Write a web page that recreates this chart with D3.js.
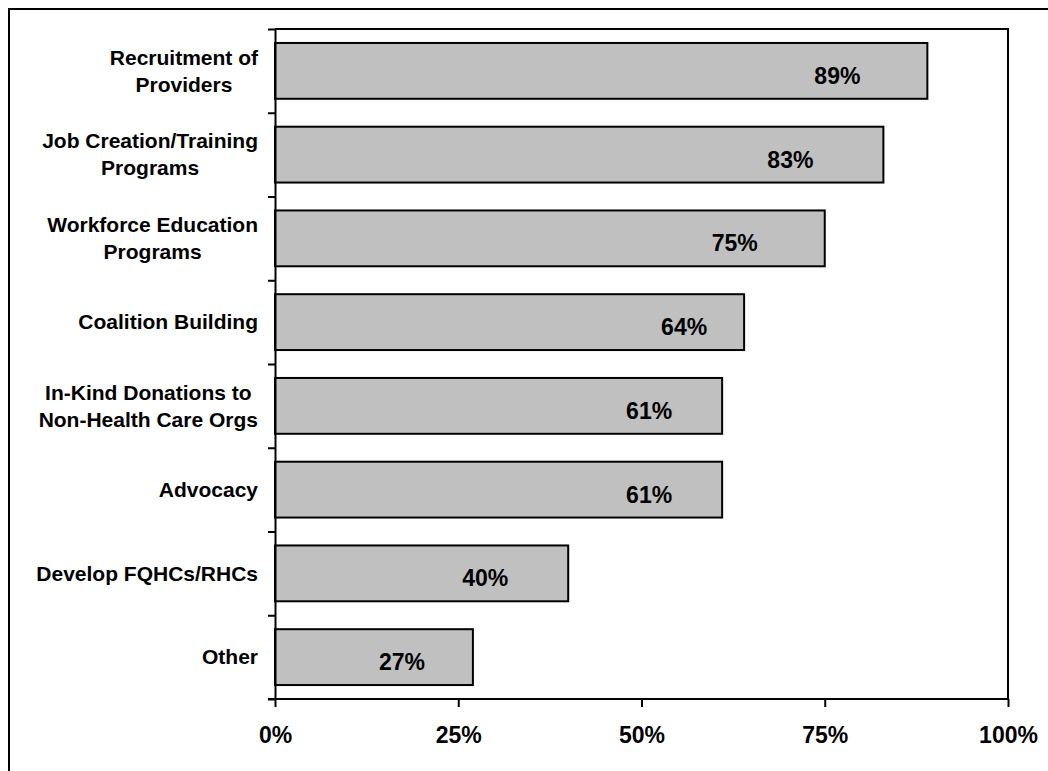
<!DOCTYPE html>
<html>
<head>
<meta charset="utf-8">
<script src="https://cdn.jsdelivr.net/npm/d3@7"></script>
<style>
  html, body { margin: 0; padding: 0; background: #fff; }
  svg { display: block; }
  text { font-family: "Liberation Sans", Arial, sans-serif; font-weight: bold; fill: #000; }
</style>
</head>
<body>
<svg id="chart" width="1048" height="771"></svg>
<script>
// Activities reported, share of respondents
const categories = [
  "Recruitment of\nProviders",
  "Job Creation/Training\nPrograms",
  "Workforce Education\nPrograms",
  "Coalition Building",
  "In-Kind Donations to\nNon-Health Care Orgs",
  "Advocacy",
  "Develop FQHCs/RHCs",
  "Other"
];
const values = [0.89, 0.83, 0.75, 0.64, 0.61, 0.61, 0.40, 0.27];
const xTickValues = [0, 0.25, 0.5, 0.75, 1];
const xTickLabels = ["0%", "25%", "50%", "75%", "100%"];

const svg = d3.select("#chart");
const W = 1048, H = 771;
const plot = { left: 275, right: 1008, top: 29, bottom: 699 };

// outer frame (right and bottom edges fall outside the canvas)
svg.append("rect")
  .attr("x", 9).attr("y", 9)
  .attr("width", W + 20).attr("height", H + 20)
  .attr("fill", "none").attr("stroke", "#000").attr("stroke-width", 2);

const x = d3.scaleLinear().domain([0, 1]).range([plot.left, plot.right]);
const y = d3.scaleBand().domain(d3.range(categories.length))
  .range([plot.top, plot.bottom]).paddingInner(1 / 3).paddingOuter(1 / 6);
const yEdges = d3.scaleLinear().domain([0, categories.length]).range([plot.top, plot.bottom]);

// plot frame: top and right edges
svg.append("path")
  .attr("d", `M${plot.left},${plot.top}H${plot.right}V${plot.bottom}`)
  .attr("fill", "none").attr("stroke", "#000").attr("stroke-width", 2);

// bars
svg.append("g").selectAll("rect").data(values).join("rect")
  .attr("x", x(0))
  .attr("y", (d, i) => y(i))
  .attr("width", d => x(d) - x(0))
  .attr("height", y.bandwidth())
  .attr("fill", "#C0C0C0")
  .attr("stroke", "#000")
  .attr("stroke-width", 2);

// value labels, set in from each bar's end
const labelInset = [90, 93, 90, 60, 73, 73, 83, 71];
svg.append("g").selectAll("text").data(values).join("text")
  .attr("x", (d, i) => x(d) - labelInset[i])
  .attr("y", (d, i) => y(i) + y.bandwidth() / 2 + 5)
  .attr("text-anchor", "middle")
  .attr("dominant-baseline", "central")
  .style("font-size", "23px")
  .text(d => d3.format(".0%")(d));

// y axis: ticks on category boundaries
const yAxis = d3.axisLeft(yEdges).tickValues(d3.range(categories.length + 1))
  .tickSize(7).tickSizeOuter(0).tickFormat("");
const gy = svg.append("g").attr("transform", `translate(${plot.left},0)`).call(yAxis);
gy.select(".domain").attr("stroke", "#000").attr("stroke-width", 2);
gy.selectAll(".tick line").attr("stroke", "#000").attr("stroke-width", 2);

// x axis
const xAxis = d3.axisBottom(x).tickValues(xTickValues)
  .tickSize(8).tickSizeOuter(0)
  .tickFormat((d, i) => xTickLabels[i]);
const gx = svg.append("g").attr("transform", `translate(0,${plot.bottom})`).call(xAxis);
gx.select(".domain").attr("d", `M${plot.left - 7},0H${plot.right}`)
  .attr("stroke", "#000").attr("stroke-width", 2);
gx.selectAll(".tick line").attr("stroke", "#000").attr("stroke-width", 2);
gx.selectAll(".tick text")
  .attr("y", 36).attr("dy", "0.35em")
  .style("font-size", "23px")
  .style("font-family", "'Liberation Sans', Arial, sans-serif")
  .style("font-weight", "bold")
  .attr("fill", "#000");

// category labels: block right-aligned, lines centred within block
const labelRight = 258;
const lineH = 27;
const gc = svg.append("g");
categories.forEach((c, i) => {
  const lines = c.split("\n");
  const cy = y(i) + y.bandwidth() / 2;
  const t = gc.append("text")
    .attr("text-anchor", "middle")
    .style("font-size", "21px");
  const spans = lines.map((ln, k) => t.append("tspan")
    .attr("y", cy + (k - (lines.length - 1) / 2) * lineH)
    .attr("dy", "0.35em")
    .text(ln));
  const widths = spans.map(s => s.node().getComputedTextLength());
  const blockW = d3.max(widths);
  spans.forEach(s => s.attr("x", labelRight - blockW / 2));
});
</script>
</body>
</html>
